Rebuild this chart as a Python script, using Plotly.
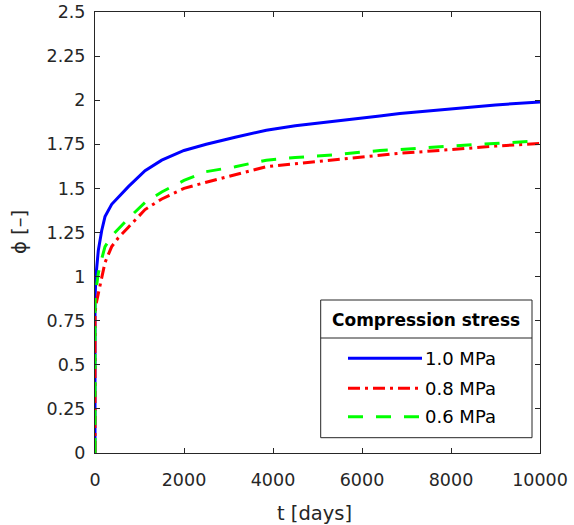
import plotly.graph_objs as go

# time axis [days] and creep coefficient for each compression stress
t_days = [0, 0, 20, 75, 150, 225, 375, 525, 750, 1125, 1500, 2000, 2500,
          3150, 3850, 4500, 5350, 6400, 6850, 8000, 9000, 10000]
phi_10 = [0, 0.87, 1.00, 1.15, 1.26, 1.34, 1.41, 1.45, 1.51, 1.60, 1.66, 1.715,
          1.75, 1.79, 1.83, 1.855, 1.878, 1.91, 1.925, 1.951, 1.973, 1.99]
phi_08 = [0, 0.78, 0.84, 0.90, 1.00, 1.08, 1.17, 1.22, 1.28, 1.38, 1.44, 1.50,
          1.535, 1.576, 1.623, 1.64, 1.661, 1.69, 1.699, 1.72, 1.74, 1.755]
phi_06 = [0, 0.85, 0.92, 1.02, 1.10, 1.17, 1.23, 1.27, 1.33, 1.42, 1.48, 1.545,
          1.595, 1.623, 1.66, 1.675, 1.69, 1.715, 1.72, 1.74, 1.755, 1.77]

series_names = ["1.0 MPa", "0.8 MPa", "0.6 MPa"]
series_colors = ["#0000ff", "#ff0000", "#00ff00"]
series_dash = ["solid", "12px,5px,3px,5px", "15px,13px"]
series_values = [phi_10, phi_08, phi_06]

x_ticks = [0, 2000, 4000, 6000, 8000, 10000]
y_ticks = [0, 0.25, 0.5, 0.75, 1, 1.25, 1.5, 1.75, 2, 2.25, 2.5]
y_labels = ["0", "0.25", "0.5", "0.75", "1", "1.25", "1.5", "1.75", "2", "2.25", "2.5"]

# plot area in pixels
L, R, T, B = 95, 540, 12, 453
W, H = 574, 525


def px(x):
    return (x - L) / (R - L)


def py(y):
    return (B - y) / (B - T)


fig = go.Figure()
for name, vals, col, dash in zip(series_names, series_values, series_colors, series_dash):
    fig.add_trace(go.Scatter(x=t_days, y=vals, mode="lines", name=name,
                             line=dict(color=col, width=3, dash=dash),
                             showlegend=False))

axis_common = dict(showgrid=False, zeroline=False, showline=True, linecolor="#262626",
                   linewidth=1, mirror="allticks", ticks="inside", ticklen=5,
                   tickcolor="#262626", automargin=False, ticklabeloverflow="allow",
                   tickfont=dict(size=17.5, color="#262626"))

fig.update_layout(
    width=W, height=H,
    margin=dict(l=L, r=W - R, t=T, b=H - B),
    paper_bgcolor="white", plot_bgcolor="white",
    font=dict(family="DejaVu Sans", color="#262626"),
    xaxis=dict(range=[0, 10000], tickvals=x_ticks, ticktext=[str(v) for v in x_ticks],
               ticklabelstandoff=11, **axis_common),
    yaxis=dict(range=[0, 2.5], tickvals=y_ticks, ticktext=y_labels,
               ticklabelstandoff=5, **axis_common),
)

# axis titles
fig.add_annotation(xref="paper", yref="paper", x=px(314), y=py(513), text="t [days]",
                   showarrow=False, font=dict(size=19.5, color="#262626"),
                   xanchor="center", yanchor="middle")
fig.add_annotation(xref="paper", yref="paper", x=px(19), y=py(232), text="ϕ [–]",
                   showarrow=False, font=dict(size=19.5, color="#262626"), textangle=-90,
                   xanchor="center", yanchor="middle")

# legend box drawn by hand (MATLAB style with title separator)
box_l, box_r, box_t, box_b = 320.7, 532, 300, 437.7
sep_y = 338
fig.add_shape(type="rect", xref="paper", yref="paper",
              x0=px(box_l), x1=px(box_r), y0=py(box_b), y1=py(box_t),
              line=dict(color="#262626", width=1), fillcolor="white", layer="above")
fig.add_shape(type="line", xref="paper", yref="paper",
              x0=px(box_l), x1=px(box_r), y0=py(sep_y), y1=py(sep_y),
              line=dict(color="#262626", width=1), layer="above")
fig.add_annotation(xref="paper", yref="paper", x=px((box_l + box_r) / 2), y=py(320),
                   text="<b>Compression stress</b>", showarrow=False,
                   font=dict(size=17, color="black"), xanchor="center", yanchor="middle")

entry_y = [358.3, 388.3, 416.7]
for name, col, dash, yy in zip(series_names, series_colors, series_dash, entry_y):
    fig.add_shape(type="line", xref="paper", yref="paper",
                  x0=px(348), x1=px(422), y0=py(yy), y1=py(yy),
                  line=dict(color=col, width=3, dash=dash), layer="above")
    fig.add_annotation(xref="paper", yref="paper", x=px(423), y=py(yy),
                       text=name, showarrow=False, font=dict(size=18, color="black"),
                       xanchor="left", yanchor="middle")

# drop the default 8px page margin so the figure fills the window
fig.write_html("out.html", config={"displayModeBar": False},
               post_script="document.body.style.margin='0';")
